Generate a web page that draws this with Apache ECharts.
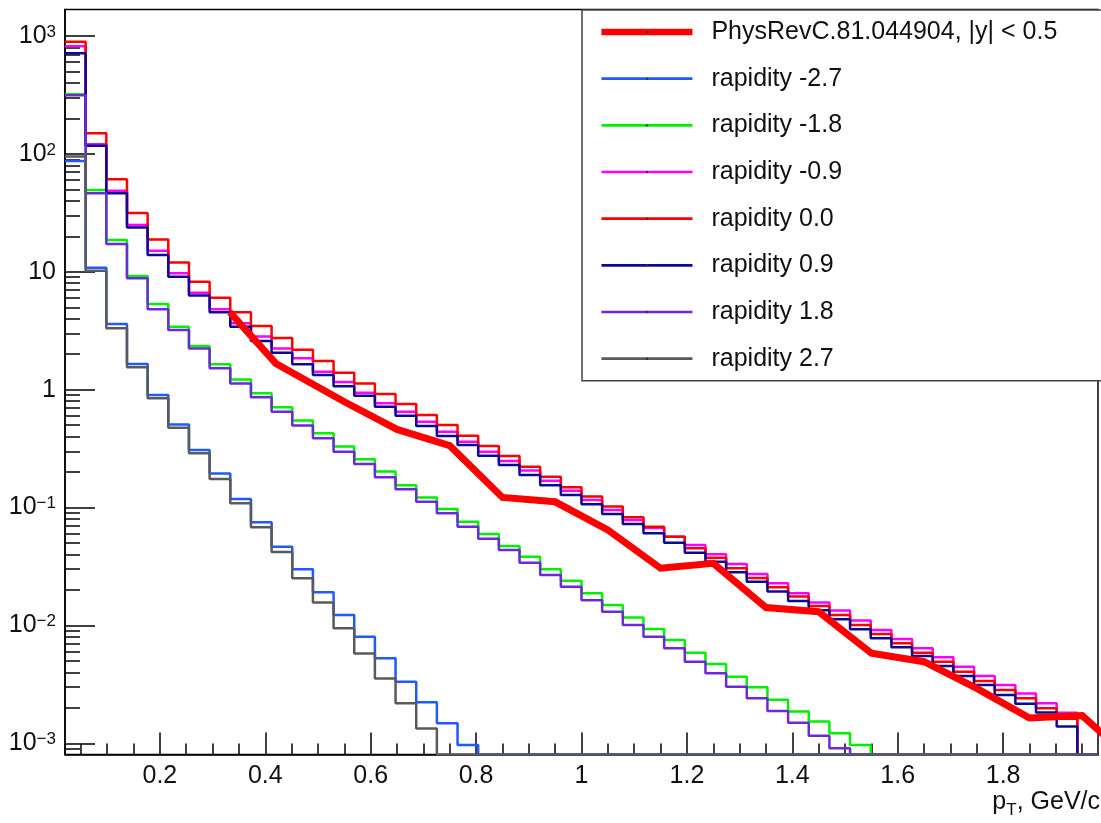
<!DOCTYPE html>
<html>
<head>
<meta charset="utf-8">
<script src="https://cdn.jsdelivr.net/npm/echarts@6/dist/echarts.min.js"></script>
<style>
html,body{margin:0;padding:0;background:#fff;}
#chart{width:1101px;height:823px;}
</style>
</head>
<body>
<div id="chart"></div>
<script>
// ---------------- data ----------------
// histogram binning (50 bins from 0.02 to 1.98 GeV/c)
const BIN_LO = 0.02;
const BIN_W = 0.0392;

const X_MIN = 0.02, X_MAX = 1.98;
const Y_MIN = 8.05e-4, Y_MAX = 1678;

const X_TICKS = [0.2, 0.4, 0.6, 0.8, 1.0, 1.2, 1.4, 1.6, 1.8];
const X_MINOR_TICKS = [0.05, 0.1, 0.15, 0.25, 0.3, 0.35, 0.45, 0.5, 0.55, 0.65, 0.7, 0.75, 0.85, 0.9, 0.95,
  1.05, 1.1, 1.15, 1.25, 1.3, 1.35, 1.45, 1.5, 1.55, 1.65, 1.7, 1.75, 1.85, 1.9, 1.95];
const Y_TICKS = [1e-3, 1e-2, 1e-1, 1, 10, 100, 1000];

const DATA_NAME = 'PhysRevC.81.044904, |y| < 0.5';
const HIST_NAMES = ['rapidity -2.7', 'rapidity -1.8', 'rapidity -0.9', 'rapidity 0.0',
                    'rapidity 0.9', 'rapidity 1.8', 'rapidity 2.7'];
const HIST_COLORS = ['#1e5aff', '#00f000', '#ff00ff', '#ff0000', '#0a0a96', '#6e28dc', '#5a5a5a'];

// bin contents (0 = empty bin)
const rapNeg27 = [87, 10.8, 3.61, 1.65, 0.90, 0.508, 0.308, 0.195, 0.118, 0.075,
  0.0466, 0.030, 0.0191, 0.0123, 0.00803, 0.00527, 0.00334, 0.00223, 0.00148, 0.00097,
  0, 0, 0, 0, 0, 0, 0, 0, 0, 0,
  0, 0, 0, 0, 0, 0, 0, 0, 0, 0,
  0, 0, 0, 0, 0, 0, 0, 0, 0, 0];
const rapNeg18 = [320, 49.4, 18.6, 9.2, 5.33, 3.42, 2.35, 1.64, 1.22, 0.932,
  0.709, 0.548, 0.427, 0.329, 0.257, 0.202, 0.155, 0.122, 0.0973, 0.0760,
  0.0597, 0.0472, 0.0383, 0.0300, 0.0240, 0.0188, 0.0149, 0.0117, 0.00933, 0.00753,
  0.00588, 0.00471, 0.00368, 0.00299, 0.00235, 0.00186, 0.00153, 0.00122, 0.00097, 0,
  0, 0, 0, 0, 0, 0, 0, 0, 0, 0];
const rapNeg09 = [820, 121, 48.7, 24.9, 15.1, 9.7, 6.65, 4.81, 3.66, 2.82,
  2.24, 1.85, 1.42, 1.16, 0.944, 0.767, 0.651, 0.535, 0.440, 0.362,
  0.298, 0.248, 0.206, 0.169, 0.139, 0.116, 0.0955, 0.0785, 0.067, 0.0565,
  0.0482, 0.0402, 0.0332, 0.0274, 0.0228, 0.0188, 0.0157, 0.0134, 0.0110, 0.00916,
  0.00768, 0.00641, 0.00537, 0.00447, 0.00373, 0.00313, 0.00265, 0.00219, 0.00182, 0];
const rap00 = [895, 150, 61, 31.5, 18.8, 12.0, 8.24, 6.03, 4.53, 3.47,
  2.75, 2.18, 1.75, 1.39, 1.13, 0.92, 0.756, 0.610, 0.502, 0.407,
  0.333, 0.274, 0.222, 0.183, 0.149, 0.124, 0.102, 0.0828, 0.0689, 0.0565,
  0.0452, 0.0376, 0.0306, 0.0253, 0.0211, 0.0176, 0.0146, 0.0123, 0.0101, 0.00847,
  0.00706, 0.00588, 0.00493, 0.00406, 0.00338, 0.00284, 0.00242, 0.00199, 0.00162, 0];
const rapPos09 = [713, 117, 46.4, 23.7, 13.9, 9.09, 6.3, 4.53, 3.42, 2.59,
  2.06, 1.64, 1.33, 1.07, 0.889, 0.718, 0.601, 0.492, 0.405, 0.34,
  0.275, 0.23, 0.189, 0.155, 0.128, 0.107, 0.0883, 0.0726, 0.0605, 0.0504,
  0.0415, 0.0348, 0.0283, 0.0235, 0.0194, 0.0161, 0.0135, 0.0113, 0.00929, 0.00778,
  0.00653, 0.00551, 0.00453, 0.00373, 0.00313, 0.00257, 0.00217, 0.00183, 0.00139, 0];
const rapPos18 = [315, 46.4, 17.2, 8.8, 4.81, 3.21, 2.24, 1.52, 1.13, 0.863,
  0.651, 0.497, 0.387, 0.298, 0.234, 0.181, 0.143, 0.112, 0.0895, 0.0689,
  0.0545, 0.0437, 0.0341, 0.0268, 0.0213, 0.0164, 0.0131, 0.0101, 0.00803, 0.00641,
  0.00493, 0.00393, 0.00303, 0.00241, 0.00188, 0.0015, 0.00116, 0.00091, 0, 0,
  0, 0, 0, 0, 0, 0, 0, 0, 0, 0];
const rapPos27 = [95, 10.2, 3.32, 1.55, 0.845, 0.476, 0.289, 0.175, 0.109, 0.068,
  0.042, 0.0251, 0.0157, 0.00946, 0.0058, 0.00356, 0.00219, 0.00134, 0, 0,
  0, 0, 0, 0, 0, 0, 0, 0, 0, 0,
  0, 0, 0, 0, 0, 0, 0, 0, 0, 0,
  0, 0, 0, 0, 0, 0, 0, 0, 0, 0];
const HIST_VALUES = [rapNeg27, rapNeg18, rapNeg09, rap00, rapPos09, rapPos18, rapPos27];

// measured points (PhysRevC.81.044904)
const PRC_PT  = [0.333, 0.42, 0.55, 0.65, 0.75, 0.85, 0.95, 1.05, 1.15, 1.25, 1.35, 1.45, 1.55, 1.65, 1.75, 1.85, 1.95, 2.05];
const PRC_VAL = [4.53, 1.67, 0.79, 0.46, 0.335, 0.122, 0.112, 0.0646, 0.0306, 0.0337, 0.0142, 0.0131, 0.00581, 0.00493, 0.00293, 0.00164, 0.00172, 0.00068];

// ---------------- build ----------------
const FONT = 'Liberation Sans';
const TXT = '#111';
const HIST_LW = 2.5;
const DATA_LW = 7;

function histPoints(vals) {
  const floorV = v => (v > 0 ? v : Y_MIN);
  const pts = vals.map((v, k) => [BIN_LO + k * BIN_W, floorV(v)]);
  pts.push([BIN_LO + vals.length * BIN_W, floorV(vals[vals.length - 1])]);
  return pts;
}

const yMinor = [];
for (let n = -4; n <= 3; n++) {
  for (let k = 2; k <= 9; k++) {
    const v = k * Math.pow(10, n);
    if (v > Y_MIN && v < Y_MAX) yMinor.push(v);
  }
}

function yLabel(v) {
  const n = Math.round(Math.log10(v));
  if (n === 0) return '{b|1}';
  if (n === 1) return '{b|10}';
  return '{b|10}{s|' + (n < 0 ? '\u2212' + (-n) : n) + '}';
}
function xLabel(v) {
  return String(Math.round(v * 10) / 10);
}

const series = HIST_NAMES.map((name, i) => ({
  type: 'line',
  name: name,
  data: histPoints(HIST_VALUES[i]),
  step: 'end',
  symbol: 'none',
  showSymbol: false,
  clip: true,
  silent: true,
  lineStyle: { color: HIST_COLORS[i], width: HIST_LW },
  itemStyle: { color: HIST_COLORS[i] },
  xAxisIndex: 0,
  yAxisIndex: 0
}));
series.push({
  type: 'line',
  name: DATA_NAME,
  data: PRC_PT.map((x, i) => [x, PRC_VAL[i]]),
  symbol: 'none',
  showSymbol: false,
  clip: true,
  silent: true,
  lineStyle: { color: '#ff0000', width: DATA_LW, join: 'miter' },
  itemStyle: { color: '#ff0000' },
  xAxisIndex: 0,
  yAxisIndex: 0
});

const legendData = [{ name: DATA_NAME, lineStyle: { width: 6.5, color: '#ff0000' }, itemStyle: { color: '#333' } }]
  .concat(HIST_NAMES.map((n, i) => ({ name: n, lineStyle: { width: 2.7, color: HIST_COLORS[i] }, itemStyle: { color: '#333' } })));

const chart = echarts.init(document.getElementById('chart'), null, { renderer: 'canvas' });
chart.setOption({
  animation: false,
  backgroundColor: '#fff',
  grid: {
    left: 65, right: 3, top: 9.5, bottom: 68.5,
    show: true, borderColor: '#000', borderWidth: 1.5, backgroundColor: 'transparent',
    containLabel: false, outerBoundsMode: 'none'
  },
  title: {
    text: '{a|p}{s|T}{a|, GeV/c}',
    right: 1, top: 786.5, padding: 0,
    textStyle: {
      fontWeight: 'normal',
      rich: {
        a: { fontFamily: FONT, fontSize: 25, fontWeight: 'normal', lineHeight: 32, color: TXT },
        s: { fontFamily: FONT, fontSize: 17, fontWeight: 'normal', lineHeight: 16, color: TXT, verticalAlign: 'bottom' }
      }
    }
  },
  legend: {
    orient: 'vertical',
    left: 582, top: 10,
    padding: [8, 45.5, 8, 16.2],
    itemWidth: 91, itemHeight: 3, itemGap: 18.67,
    backgroundColor: '#fff', borderColor: '#444', borderWidth: 1.5, borderRadius: 0,
    selectedMode: false,
    formatter: name => '{g|}' + name,
    textStyle: {
      fontFamily: FONT, fontSize: 25, color: TXT, lineHeight: 28,
      rich: { g: { width: 14 } }
    },
    data: legendData
  },
  xAxis: [
    {
      type: 'value', min: X_MIN, max: X_MAX, position: 'bottom',
      axisLine: { show: true, lineStyle: { color: '#000', width: 1.5 } },
      splitLine: { show: false },
      axisTick: { show: true, inside: true, length: 22, customValues: X_TICKS, lineStyle: { color: '#000', width: 1.5 } },
      axisLabel: { show: true, customValues: X_TICKS, formatter: xLabel, margin: 9,
        fontFamily: FONT, fontSize: 25, color: TXT }
    },
    {
      type: 'value', min: X_MIN, max: X_MAX, position: 'bottom',
      axisLine: { show: false },
      splitLine: { show: false },
      axisTick: { show: true, inside: true, length: 11, customValues: X_MINOR_TICKS, lineStyle: { color: '#000', width: 1.5 } },
      axisLabel: { show: false }
    }
  ],
  yAxis: [
    {
      type: 'log', logBase: 10, min: Y_MIN, max: Y_MAX, position: 'left',
      axisLine: { show: true, lineStyle: { color: '#000', width: 1.5 } },
      splitLine: { show: false },
      axisTick: { show: true, inside: true, length: 30, customValues: Y_TICKS, lineStyle: { color: '#000', width: 1.5 } },
      axisLabel: {
        show: true, customValues: Y_TICKS, formatter: yLabel, margin: 9,
        rich: {
          b: { fontFamily: FONT, fontSize: 25, lineHeight: 25, color: TXT },
          s: { fontFamily: FONT, fontSize: 17, lineHeight: 15, color: TXT, verticalAlign: 'top' }
        }
      }
    },
    {
      type: 'log', logBase: 10, min: Y_MIN, max: Y_MAX, position: 'left',
      axisLine: { show: false },
      splitLine: { show: false },
      axisTick: { show: true, inside: true, length: 15, customValues: yMinor, lineStyle: { color: '#000', width: 1.5 } },
      axisLabel: { show: false }
    }
  ],
  series: series
});
</script>
</body>
</html>
